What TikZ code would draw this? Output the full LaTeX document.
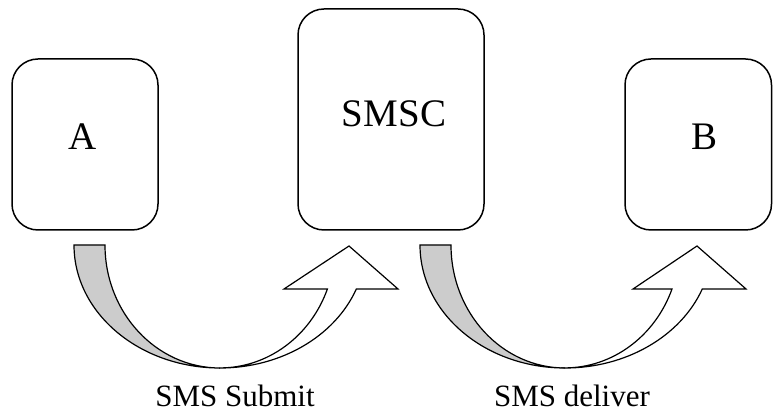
\documentclass[tikz,border=0pt]{standalone}
\usepackage{fontspec}
\setmainfont{Liberation Serif}
\begin{document}
\begin{tikzpicture}[x=1pt,y=1pt,
  station/.style={draw=black,line width=1.5pt,rounded corners=26pt,inner sep=0pt},
  boxtext/.style={anchor=base,inner sep=0pt,font=\fontsize{39}{44}\selectfont},
  steptext/.style={anchor=base,inner sep=0pt,font=\fontsize{31}{36}\selectfont},
  backband/.style={draw=black,fill=black!20,line width=1.2pt,line join=miter},
  frontband/.style={draw=black,fill=white,line width=1.2pt,line join=miter}]
\useasboundingbox (0,0) rectangle (773,414);

% the three stations
\node[station,minimum width=146pt,minimum height=171pt] (A) at (85,269.5) {};
\node[station,minimum width=186pt,minimum height=221pt] (SMSC) at (391,294.5) {};
\node[station,minimum width=146.5pt,minimum height=171pt] (B) at (698.25,269.5) {};

\node[boxtext] (Alabel) at (83,264) {A};
\node[boxtext] (SMSClabel) at (394,287) {SMSC};
\node[boxtext] (Blabel) at (704,264) {B};

% U-turn arrow from A to SMSC
\draw[backband] (74,169) arc[start angle=180,end angle=270,x radius=146,y radius=123]
  arc[start angle=270,end angle=180,x radius=115,y radius=123] -- cycle;
\draw[frontband] (220,46) arc[start angle=270,end angle=339,x radius=146,y radius=123]
  -- (398,125) -- (349,168) -- (284,125) -- (327.4,125)
  arc[start angle=339,end angle=270,x radius=115,y radius=123] -- cycle;

% U-turn arrow from SMSC to B
\draw[backband] (420,169) arc[start angle=180,end angle=270,x radius=145,y radius=123]
  arc[start angle=270,end angle=180,x radius=114,y radius=123] -- cycle;
\draw[frontband] (565,46) arc[start angle=270,end angle=339,x radius=147,y radius=123]
  -- (746,125) -- (697,168) -- (633,125) -- (672,125)
  arc[start angle=339,end angle=270,x radius=115,y radius=123] -- cycle;

\node[steptext] (submit) at (235,7) {SMS Submit};
\node[steptext] (deliver) at (572,7) {SMS deliver};
\end{tikzpicture}
\end{document}
